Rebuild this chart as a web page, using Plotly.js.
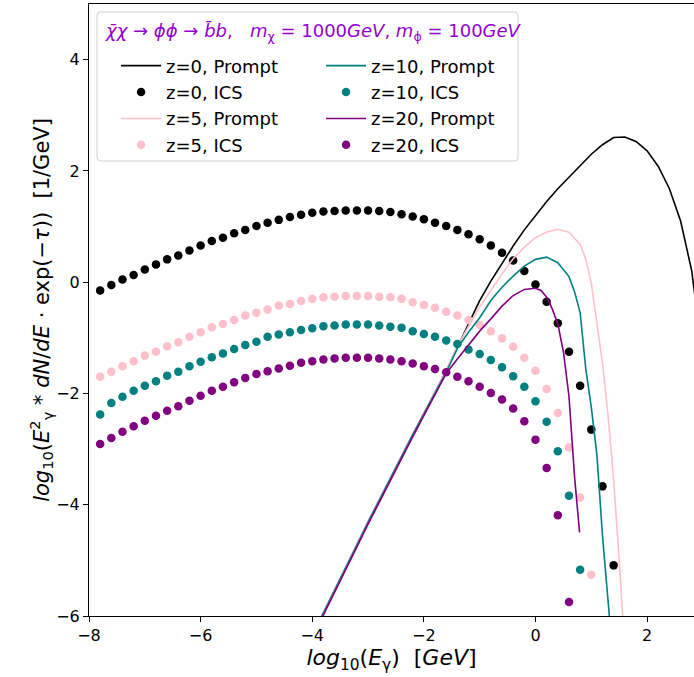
<!DOCTYPE html>
<html>
<head>
<meta charset="utf-8">
<script src="https://cdn.plot.ly/plotly-3.0.1.min.js"></script>
<style>html,body{margin:0;padding:0;background:#fff;}#chart{width:694px;height:677px;}</style>
</head>
<body>
<div id="chart"></div>
<script>
// ICS energy grid (log10 E)
var icsX = [-7.8,-7.6,-7.4,-7.2,-7.0,-6.8,-6.6,-6.4,-6.2,-6.0,-5.8,-5.6,-5.4,-5.2,-5.0,-4.8,-4.6,-4.4,-4.2,-4.0,-3.8,-3.6,-3.4,-3.2,-3.0,-2.8,-2.6,-2.4,-2.2,-2.0,-1.8,-1.6,-1.4,-1.2,-1.0,-0.8,-0.6,-0.4,-0.2,0.0,0.2,0.4,0.6,0.8,1.0,1.2,1.4];

var icsZ0 = [-0.15,-0.05,0.05,0.13,0.23,0.32,0.41,0.48,0.57,0.66,0.74,0.80,0.88,0.94,1.01,1.07,1.12,1.17,1.21,1.25,1.27,1.28,1.29,1.29,1.29,1.28,1.26,1.22,1.18,1.13,1.07,1.01,0.94,0.86,0.77,0.66,0.53,0.39,0.20,-0.04,-0.35,-0.74,-1.25,-1.86,-2.65,-3.67,-5.09];
var icsZ5 = [-1.70,-1.61,-1.51,-1.42,-1.32,-1.25,-1.15,-1.08,-0.98,-0.90,-0.81,-0.75,-0.68,-0.60,-0.55,-0.49,-0.42,-0.39,-0.34,-0.30,-0.27,-0.26,-0.25,-0.25,-0.25,-0.26,-0.27,-0.30,-0.36,-0.41,-0.46,-0.53,-0.60,-0.68,-0.77,-0.88,-1.01,-1.16,-1.36,-1.59,-1.92,-2.35,-2.97,-3.87,-5.26];
var icsZ10 = [-2.38,-2.17,-2.06,-1.95,-1.86,-1.78,-1.68,-1.61,-1.51,-1.43,-1.35,-1.28,-1.20,-1.13,-1.07,-0.98,-0.94,-0.90,-0.86,-0.83,-0.79,-0.78,-0.76,-0.76,-0.76,-0.78,-0.80,-0.82,-0.88,-0.93,-0.98,-1.05,-1.11,-1.21,-1.29,-1.40,-1.53,-1.69,-1.88,-2.14,-2.51,-3.04,-3.84,-5.17];
var icsZ20 = [-2.91,-2.80,-2.69,-2.59,-2.49,-2.40,-2.31,-2.23,-2.13,-2.04,-1.95,-1.88,-1.80,-1.72,-1.65,-1.60,-1.55,-1.50,-1.45,-1.42,-1.39,-1.37,-1.36,-1.36,-1.36,-1.37,-1.39,-1.42,-1.46,-1.51,-1.56,-1.62,-1.70,-1.78,-1.88,-1.99,-2.11,-2.27,-2.50,-2.83,-3.34,-4.19,-5.75];

// Prompt spectra
var promptZ0X = [-4.0,-3.8,-3.6,-3.4,-3.2,-3.0,-2.8,-2.6,-2.4,-2.2,-2.0,-1.8,-1.6,-1.4,-1.2,-1.0,-0.8,-0.6,-0.4,-0.2,0.0,0.2,0.4,0.6,0.8,1.0,1.2,1.4,1.6,1.8,2.0,2.2,2.4,2.6,2.8,2.9];
var promptZ0Y = [-6.35,-5.95,-5.54,-5.13,-4.72,-4.31,-3.91,-3.52,-3.13,-2.74,-2.36,-1.98,-1.60,-1.17,-0.74,-0.33,0.02,0.34,0.65,0.94,1.20,1.45,1.68,1.89,2.10,2.30,2.47,2.60,2.61,2.53,2.36,2.08,1.68,1.10,0.20,-0.60];

var promptZ5X = [-4.0,-3.8,-3.6,-3.4,-3.2,-3.0,-2.8,-2.6,-2.4,-2.2,-2.0,-1.8,-1.6,-1.4,-1.2,-1.0,-0.8,-0.6,-0.4,-0.2,0.0,0.2,0.4,0.6,0.8,0.9,1.0,1.1,1.2,1.3,1.4,1.5,1.6];
var promptZ5Y = [-6.35,-5.95,-5.54,-5.13,-4.72,-4.31,-3.91,-3.52,-3.13,-2.74,-2.36,-1.98,-1.60,-1.15,-0.80,-0.44,-0.15,0.15,0.42,0.63,0.80,0.90,0.95,0.90,0.68,0.42,-0.02,-0.72,-1.45,-2.40,-3.55,-5.00,-6.60];

var promptZ10X = [-4.0,-3.8,-3.6,-3.4,-3.2,-3.0,-2.8,-2.6,-2.4,-2.2,-2.0,-1.8,-1.6,-1.4,-1.2,-1.0,-0.8,-0.6,-0.4,-0.2,0.0,0.2,0.4,0.6,0.7,0.8,0.9,1.0,1.1,1.2,1.3,1.4];
var promptZ10Y = [-6.36,-5.96,-5.55,-5.14,-4.73,-4.32,-3.92,-3.53,-3.14,-2.75,-2.37,-1.99,-1.62,-1.19,-0.90,-0.64,-0.33,-0.09,0.11,0.29,0.41,0.45,0.35,0.10,-0.17,-0.55,-1.55,-2.25,-3.10,-4.55,-5.60,-6.90];

var promptZ20X = [-4.0,-3.8,-3.6,-3.4,-3.2,-3.0,-2.8,-2.6,-2.4,-2.2,-2.0,-1.8,-1.6,-1.4,-1.2,-1.0,-0.8,-0.6,-0.4,-0.2,0.0,0.1,0.2,0.3,0.4,0.5,0.6,0.65,0.7,0.79];
var promptZ20Y = [-6.39,-5.99,-5.58,-5.17,-4.76,-4.35,-3.95,-3.56,-3.17,-2.78,-2.40,-2.02,-1.64,-1.38,-1.12,-0.88,-0.66,-0.43,-0.24,-0.13,-0.11,-0.15,-0.27,-0.48,-0.75,-1.25,-2.05,-2.75,-3.50,-4.50];

var names = ['z=0, Prompt','z=0, ICS','z=5, Prompt','z=5, ICS','z=10, Prompt','z=10, ICS','z=20, Prompt','z=20, ICS'];
var colors = ['#000000','#ffc0cb','#008080','#800080'];
var legendTitle = '<i>χ̄χ</i> → <i>ϕϕ</i> → <i>b̄b</i>,\u00a0\u00a0 <i>m</i><sub>χ</sub> = 1000<i>GeV</i>, <i>m</i><sub>ϕ</sub> = 100<i>GeV</i>';
var xTicks = [-8,-6,-4,-2,0,2];
var yTicks = [-6,-4,-2,0,2,4];

function prompt(x, y, name, color, rank) {
  return {type:'scatter', mode:'lines', x:x, y:y, name:name, legendrank:rank,
          line:{color:color, width:1.6}, hoverinfo:'skip'};
}
function ics(y, name, color, rank) {
  return {type:'scatter', mode:'markers', x:icsX.slice(0, y.length), y:y, name:name, legendrank:rank,
          marker:{color:color, size:8.5, line:{width:0}}, hoverinfo:'skip'};
}

var traces = [
  prompt(promptZ0X, promptZ0Y, names[0], colors[0], 1),
  ics(icsZ0, names[1], colors[0], 3),
  prompt(promptZ5X, promptZ5Y, names[2], colors[1], 5),
  ics(icsZ5, names[3], colors[1], 7),
  prompt(promptZ10X, promptZ10Y, names[4], colors[2], 2),
  ics(icsZ10, names[5], colors[2], 4),
  prompt(promptZ20X, promptZ20Y, names[6], colors[3], 6),
  ics(icsZ20, names[7], colors[3], 8)
];

// legend frame (paper coordinates), rounded corners
var bx0 = 0.0132, bx1 = 0.709, by0 = 0.7435, by1 = 0.987, rx = 0.006, ry = 0.006;
var framePath = 'M' + (bx0+rx) + ',' + by1 + ' L' + (bx1-rx) + ',' + by1 + ' Q' + bx1 + ',' + by1 + ' ' + bx1 + ',' + (by1-ry) +
  ' L' + bx1 + ',' + (by0+ry) + ' Q' + bx1 + ',' + by0 + ' ' + (bx1-rx) + ',' + by0 +
  ' L' + (bx0+rx) + ',' + by0 + ' Q' + bx0 + ',' + by0 + ' ' + bx0 + ',' + (by0+ry) +
  ' L' + bx0 + ',' + (by1-ry) + ' Q' + bx0 + ',' + by1 + ' ' + (bx0+rx) + ',' + by1 + ' Z';

var layout = {
  width:694, height:677,
  margin:{l:89, r:0, t:4, b:61, pad:0},
  paper_bgcolor:'#ffffff', plot_bgcolor:'#ffffff',
  font:{family:'DejaVu Sans', size:16, color:'#000'},
  showlegend:true,
  xaxis:{range:[-8,2.84], tickvals:xTicks, ticks:'outside', ticklen:5, tickwidth:1, tickcolor:'#000',
         showline:true, linecolor:'#000', linewidth:1, mirror:true, showgrid:false, zeroline:false,
         tickfont:{size:16},
         title:{text:'<i>log</i><sub>10</sub>(<i>E</i><sub>γ</sub>)\u00a0\u00a0[<i>GeV</i>]', font:{size:22}, standoff:5}},
  yaxis:{range:[-6,5], tickvals:yTicks, ticks:'outside', ticklen:5, tickwidth:1, tickcolor:'#000',
         showline:true, linecolor:'#000', linewidth:1, mirror:false, showgrid:false, zeroline:false,
         tickfont:{size:16},
         title:{text:'<i>log</i><sub>10</sub>(<i>E</i><sup>2</sup><sub>γ</sub> * <i>dN</i>/<i>dE</i> · exp(−<i>τ</i>))\u00a0\u00a0[1/GeV]', font:{size:21}, standoff:0}},
  shapes:[{type:'path', xref:'paper', yref:'paper', path:framePath, layer:'above',
           fillcolor:'rgba(255,255,255,0.85)', line:{color:'#d0d0d0', width:1}}],
  annotations:[{xref:'paper', yref:'paper', x:0.0231, y:0.954, xanchor:'left', yanchor:'middle',
                text:legendTitle, showarrow:false, font:{size:18, color:'#9400d3'}}],
  legend:{x:0.0447, y:0.929, xanchor:'left', yanchor:'top', orientation:'h',
          entrywidth:150, entrywidthmode:'pixels', itemwidth:40,
          bgcolor:'rgba(0,0,0,0)', borderwidth:0,
          font:{size:18, color:'#000'}}
};

Plotly.newPlot('chart', traces, layout, {displayModeBar:false, staticPlot:true});
</script>
</body>
</html>
